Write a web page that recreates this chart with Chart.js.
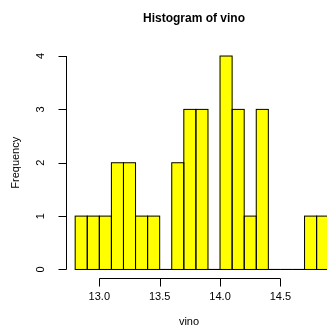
<!DOCTYPE html>
<html><head><meta charset="utf-8">
<script src="https://cdn.jsdelivr.net/npm/chart.js@4.4.1/dist/chart.umd.min.js"></script>
<style>html,body{margin:0;padding:0;background:#fff;overflow:hidden}</style>
</head><body>
<canvas id="c" width="327" height="335"></canvas>
<script>
// ---- data ----
const binStarts = [12.8,12.9,13.0,13.1,13.2,13.3,13.4,13.5,13.6,13.7,13.8,13.9,14.0,14.1,14.2,14.3,14.4,14.5,14.6,14.7,14.8];
const binWidth = 0.1;
const counts    = [1,1,1,2,2,1,1,0,2,3,3,0,4,3,1,3,0,0,0,1,1];
const xTickVals = [13.0,13.5,14.0,14.5];
const xTickLabels = ['13.0','13.5','14.0','14.5'];
const yTickVals = [0,1,2,3,4];
const titleText = 'Histogram of vino';
const xTitle = 'vino';
const yTitle = 'Frequency';

const FONT = '"Liberation Sans", Arial, Helvetica, sans-serif';

const rPlugin = {
  id: 'rStyle',
  afterDatasetsDraw(chart) {
    const ctx = chart.ctx, area = chart.chartArea;
    const meta = chart.getDatasetMeta(0);
    ctx.save();
    ctx.beginPath();
    ctx.rect(area.left, area.top, area.right - area.left, area.bottom - area.top);
    ctx.clip();
    ctx.strokeStyle = '#000';
    ctx.lineWidth = 1;
    meta.data.forEach(bar => {
      const p = bar.getProps(['x','y','base','width'], true);
      ctx.strokeRect(p.x - p.width/2, p.y, p.width, p.base - p.y);
    });
    ctx.restore();
  },
  afterDraw(chart) {
    const ctx = chart.ctx;
    const xs = chart.scales.x, ys = chart.scales.y, area = chart.chartArea;
    ctx.save();
    ctx.strokeStyle = '#000';
    ctx.lineWidth = 1;
    ctx.fillStyle = '#000';
    // y axis
    const ax = Math.round(area.left) + 0.5;
    ctx.beginPath();
    ctx.moveTo(ax, ys.getPixelForValue(yTickVals[0]));
    ctx.lineTo(ax, ys.getPixelForValue(yTickVals[yTickVals.length-1]));
    yTickVals.forEach(v => {
      const py = Math.round(ys.getPixelForValue(v)) + 0.5;
      ctx.moveTo(ax, py); ctx.lineTo(ax - 8, py);
    });
    ctx.stroke();
    ctx.font = '11px ' + FONT;
    ctx.textAlign = 'center';
    ctx.textBaseline = 'middle';
    yTickVals.forEach(v => {
      ctx.save();
      ctx.translate(41, ys.getPixelForValue(v));
      ctx.rotate(-Math.PI/2);
      ctx.fillText(String(v), 0, 0);
      ctx.restore();
    });
    // x axis
    const ay = Math.round(area.bottom) + 0.5;
    ctx.beginPath();
    ctx.moveTo(xs.getPixelForValue(xTickVals[0]), ay);
    ctx.lineTo(xs.getPixelForValue(xTickVals[xTickVals.length-1]), ay);
    xTickVals.forEach(v => {
      const px = Math.round(xs.getPixelForValue(v)) + 0.5;
      ctx.moveTo(px, ay); ctx.lineTo(px, ay + 8);
    });
    ctx.stroke();
    xTickVals.forEach((v, i) => {
      ctx.fillText(xTickLabels[i], xs.getPixelForValue(v), 297);
    });
    // axis titles
    ctx.fillText(xTitle, 189, 322);
    ctx.save();
    ctx.translate(16, (ys.getPixelForValue(0) + ys.getPixelForValue(4)) / 2);
    ctx.rotate(-Math.PI/2);
    ctx.fillText(yTitle, 0, 0);
    ctx.restore();
    // main title
    ctx.font = 'bold 12px ' + FONT;
    ctx.fillText(titleText, 194, 19);
    ctx.restore();
  }
};

new Chart(document.getElementById('c'), {
  type: 'bar',
  data: {
    datasets: [{
      data: binStarts.map((s, i) => ({ x: s + binWidth/2, y: counts[i] })),
      backgroundColor: '#ffff00',
      borderWidth: 0,
      categoryPercentage: 1.0,
      barPercentage: 1.0
    }]
  },
  options: {
    responsive: false,
    animation: false,
    devicePixelRatio: 1,
    layout: { padding: { left: 66, right: 0, top: 47.5, bottom: 57 } },
    plugins: { legend: { display: false }, tooltip: { enabled: false }, title: { display: false } },
    scales: {
      x: { type: 'linear', min: 12.724, max: 14.886, offset: false, grid: { offset: false }, display: false },
      y: { min: -0.16, max: 4.16, display: false }
    }
  },
  plugins: [rPlugin]
});
</script>
</body></html>
